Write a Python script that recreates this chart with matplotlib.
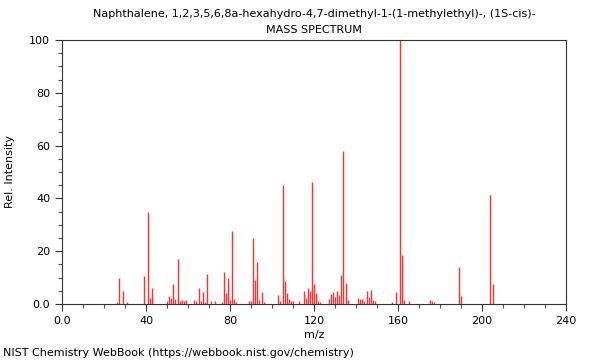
import matplotlib
matplotlib.use("Agg")
import matplotlib.pyplot as plt
from matplotlib.ticker import MultipleLocator, FixedLocator

title_line1 = "Naphthalene, 1,2,3,5,6,8a-hexahydro-4,7-dimethyl-1-(1-methylethyl)-, (1S-cis)-"
title_line2 = "MASS SPECTRUM"
x_label = "m/z"
y_label = "Rel. Intensity"
footer = "NIST Chemistry WebBook (https://webbook.nist.gov/chemistry)"

mz = [26, 27, 29, 31, 39, 41, 42, 43, 50, 51, 52, 53, 54, 55, 56, 57, 58, 59,
      63, 64, 65, 66, 67, 68, 69, 71, 73, 76, 77, 78, 79, 80, 81, 82, 83,
      89, 90, 91, 92, 93, 94, 95, 96, 103, 104, 105, 106, 107, 108, 109, 110,
      113, 115, 116, 117, 118, 119, 120, 121, 122, 123, 127, 128, 129, 130,
      131, 132, 133, 134, 135, 136, 141, 142, 143, 144, 145, 146, 147, 148,
      149, 157, 159, 161, 162, 163, 165, 175, 176, 177, 189, 190, 204, 205]
intensity = [0.8, 9.9, 4.9, 0.8, 10.6, 34.8, 2.4, 5.9, 1.3, 3.0, 2.4, 7.4, 2.0, 17.2, 1.3, 1.5, 1.1, 1.7,
             1.7, 1.0, 6.2, 1.0, 4.5, 0.6, 11.2, 1.0, 1.0, 0.9, 12.0, 4.0, 10.0, 1.4, 27.7, 1.8, 0.6,
             1.0, 1.1, 25.0, 9.1, 16.0, 1.6, 4.7, 0.6, 3.5, 1.0, 45.0, 8.8, 4.3, 1.9, 1.0, 1.0,
             1.0, 5.0, 2.4, 6.2, 4.9, 46.2, 7.6, 4.0, 1.0, 0.8, 1.8, 3.7, 4.5, 2.8,
             4.9, 3.3, 10.9, 58.0, 7.8, 1.5, 2.3, 1.8, 1.8, 1.0, 5.1, 2.8, 5.3, 1.5,
             1.0, 0.8, 4.4, 100.0, 18.5, 1.5, 1.0, 1.5, 1.0, 0.6, 13.9, 2.9, 41.3, 7.4]

x_major = [0, 40, 80, 120, 160, 200, 240]
x_major_labels = ["0.0", "40", "80", "120", "160", "200", "240"]
y_major = [0, 20, 40, 60, 80, 100]
y_major_labels = ["0.0", "20", "40", "60", "80", "100"]

fig = plt.figure(figsize=(6, 3.6), dpi=100)
ax = fig.add_axes([62 / 600, 1 - 304 / 360, 504 / 600, 264 / 360])

ax.vlines(mz, 0, intensity, colors="#ff3030", linewidth=1.0)

ax.set_xlim(0, 240)
ax.set_ylim(0, 100)
ax.xaxis.set_major_locator(FixedLocator(x_major))
ax.set_xticklabels(x_major_labels)
ax.yaxis.set_major_locator(FixedLocator(y_major))
ax.set_yticklabels(y_major_labels)
ax.xaxis.set_minor_locator(MultipleLocator(10))
ax.yaxis.set_minor_locator(MultipleLocator(5))
ax.tick_params(which="major", direction="out", length=5, width=0.8, labelsize=8, colors="#333333", labelcolor="black")
ax.tick_params(which="minor", direction="out", length=3, width=0.8, colors="#555555")
ax.tick_params(top=False, right=False)
for s in ax.spines.values():
    s.set_color("#333333")
    s.set_linewidth(0.8)

ax.set_xlabel(x_label, fontsize=8, labelpad=3)
ax.set_ylabel(y_label, fontsize=8, labelpad=10)

fig.text(314 / 600, 1 - 14 / 360, title_line1, ha="center", va="center", fontsize=8)
fig.text(314 / 600, 1 - 30 / 360, title_line2, ha="center", va="center", fontsize=8)
fig.text(3 / 600, 1 - 353 / 360, footer, ha="left", va="center", fontsize=8)

fig.savefig("out.png", dpi=100)
